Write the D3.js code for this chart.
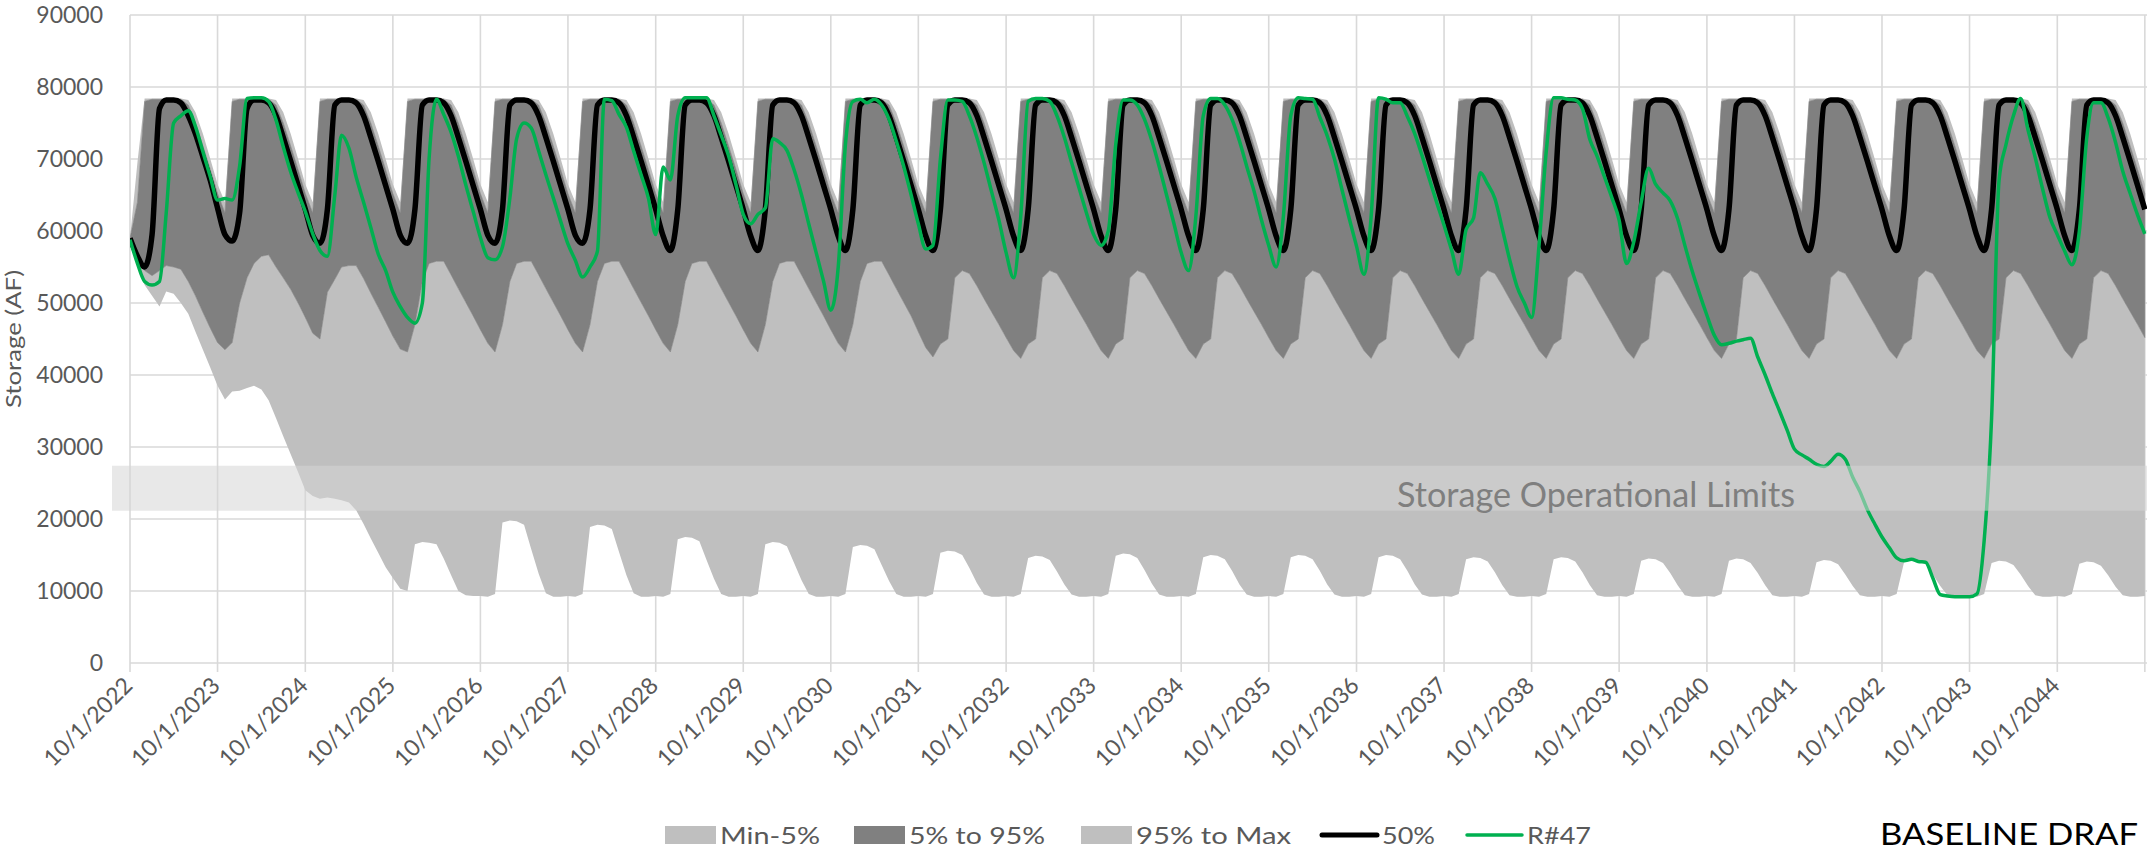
<!DOCTYPE html>
<html><head><meta charset="utf-8">
<script src="https://cdn.jsdelivr.net/npm/d3@7/dist/d3.min.js"></script>
<style>
html,body{margin:0;padding:0;background:#fff;}
svg{display:block;}
text{font-family:Lato,"Open Sans",sans-serif;}
</style></head>
<body>
<svg id="chart" width="2147" height="851"></svg>
<script>
// ---------------- DATA (monthly, first value = 10/1/2022) ----------------
const yTicks = [0,10000,20000,30000,40000,50000,60000,70000,80000,90000];
const yearTickLabels = ["10/1/2022","10/1/2023","10/1/2024","10/1/2025","10/1/2026","10/1/2027","10/1/2028","10/1/2029","10/1/2030","10/1/2031","10/1/2032","10/1/2033","10/1/2034","10/1/2035","10/1/2036","10/1/2037","10/1/2038","10/1/2039","10/1/2040","10/1/2041","10/1/2042","10/1/2043","10/1/2044"];
const legendNames = ["Min-5%","5% to 95%","95% to Max","50%","R#47"];
const opLimits = [21150, 27400];
const opLimitsLabel = "Storage Operational Limits";
const yAxisTitle = "Storage (AF)";
const stampText = "BASELINE DRAF";

const minSeries = [
59000,55500,52500,51000,49500,51600,51300,50000,48500,46000,43500,41000,
38500,36600,37700,37800,38200,38500,38000,36500,34000,31500,29000,26500,
24000,23200,22800,23000,22800,22600,22300,21200,19300,17300,15300,13300,
11800,10300,10000,16500,16800,16700,16500,14500,12200,10000,9400,9300,
9300,9200,9600,19500,19800,19700,19200,15800,12400,9700,9200,9200,
9300,9200,9600,18900,19200,19100,18600,15400,12200,9700,9200,9200,
9300,9200,9600,17200,17500,17400,16900,14300,11700,9600,9200,9200,
9300,9200,9600,16500,16800,16700,16200,13900,11500,9600,9200,9200,
9300,9200,9600,16100,16400,16300,15800,13600,11400,9600,9200,9200,
9300,9200,9600,15300,15600,15500,15000,13200,11100,9500,9200,9200,
9300,9200,9600,14600,14900,14800,14300,12700,10900,9500,9200,9200,
9300,9200,9600,14900,15200,15100,14600,12900,11000,9500,9200,9200,
9300,9200,9600,14700,15000,14900,14400,12800,10900,9500,9200,9200,
9300,9200,9600,14700,15000,14900,14400,12800,10900,9500,9200,9200,
9300,9200,9600,14700,15000,14900,14400,12800,10900,9500,9200,9200,
9300,9200,9600,14400,14700,14600,14100,12600,10800,9400,9200,9200,
9300,9200,9600,14400,14700,14600,14100,12600,10800,9400,9200,9200,
9300,9200,9600,14200,14500,14400,13900,12500,10800,9400,9200,9200,
9300,9200,9600,14200,14500,14400,13900,12500,10800,9400,9200,9200,
9300,9200,9600,14000,14300,14200,13700,12300,10700,9400,9200,9200,
9300,9200,9600,14000,14300,14200,13700,12300,10700,9400,9200,9200,
9300,9200,9600,13900,14200,14100,13600,12300,10700,9400,9200,9200,
9300,9200,9600,13800,14100,14000,13500,12200,10600,9400,9200,9200,
9300];

const p5Series = [
59000,56000,54500,53800,54500,55200,55000,54700,53000,51000,48700,46500,
44500,43500,44500,50000,53500,55500,56500,56700,55000,53500,51900,50000,
48000,45800,45000,51500,53300,55000,55200,55200,53400,51400,49400,47400,
45400,43600,43200,47000,53000,55500,55800,55800,53900,52000,50100,48200,
46300,44400,43200,47000,53000,55500,55800,55800,53900,52000,50100,48200,
46300,44400,43200,47000,53000,55500,55800,55800,53900,52000,50100,48200,
46300,44400,43200,47000,53000,55500,55800,55800,53900,52000,50100,48200,
46300,44400,43200,47000,53000,55500,55800,55800,53900,52000,50100,48200,
46300,44400,43200,47000,53000,55500,55800,55800,53900,52000,50100,48200,
46000,43800,42500,44300,45000,53500,54500,54100,52400,50600,48800,47000,
45200,43400,42300,44300,45000,53500,54500,54100,52400,50600,48800,47000,
45200,43400,42300,44300,45000,53500,54500,54100,52400,50600,48800,47000,
45200,43400,42300,44300,45000,53500,54500,54100,52400,50600,48800,47000,
45200,43400,42300,44300,45000,53500,54500,54100,52400,50600,48800,47000,
45200,43400,42300,44300,45000,53500,54500,54100,52400,50600,48800,47000,
45200,43400,42300,44300,45000,53500,54500,54100,52400,50600,48800,47000,
45200,43400,42300,44300,45000,53500,54500,54100,52400,50600,48800,47000,
45200,43400,42300,44300,45000,53500,54500,54100,52400,50600,48800,47000,
45200,43400,42300,44300,45000,53500,54500,54100,52400,50600,48800,47000,
45200,43400,42300,44300,45000,53500,54500,54100,52400,50600,48800,47000,
45200,43400,42300,44300,45000,53500,54500,54100,52400,50600,48800,47000,
45200,43400,42300,44300,45000,53500,54500,54100,52400,50600,48800,47000,
45200,43400,42300,44300,45000,53500,54500,54100,52400,50600,48800,47000,
45200];

const p95Series = [
59000,64000,78000,78300,78300,78300,78300,78300,77500,75000,71800,68500,
65200,62500,78000,78300,78300,78300,78300,78300,77500,75000,71800,68500,
65200,62500,78000,78300,78300,78300,78300,78300,77500,75000,71800,68500,
65200,62500,78000,78300,78300,78300,78300,78300,77500,75000,71800,68500,
65200,62500,78000,78300,78300,78300,78300,78300,77500,75000,71800,68500,
65200,62500,78000,78300,78300,78300,78300,78300,77500,75000,71800,68500,
65200,62500,78000,78300,78300,78300,78300,78300,77500,75000,71800,68500,
65200,62500,78000,78300,78300,78300,78300,78300,77500,75000,71800,68500,
65200,62500,78000,78300,78300,78300,78300,78300,77500,75000,71800,68500,
65200,62500,78000,78300,78300,78300,78300,78300,77500,75000,71800,68500,
65200,62500,78000,78300,78300,78300,78300,78300,77500,75000,71800,68500,
65200,62500,78000,78300,78300,78300,78300,78300,77500,75000,71800,68500,
65200,62500,78000,78300,78300,78300,78300,78300,77500,75000,71800,68500,
65200,62500,78000,78300,78300,78300,78300,78300,77500,75000,71800,68500,
65200,62500,78000,78300,78300,78300,78300,78300,77500,75000,71800,68500,
65200,62500,78000,78300,78300,78300,78300,78300,77500,75000,71800,68500,
65200,62500,78000,78300,78300,78300,78300,78300,77500,75000,71800,68500,
65200,62500,78000,78300,78300,78300,78300,78300,77500,75000,71800,68500,
65200,62500,78000,78300,78300,78300,78300,78300,77500,75000,71800,68500,
65200,62500,78000,78300,78300,78300,78300,78300,77500,75000,71800,68500,
65200,62500,78000,78300,78300,78300,78300,78300,77500,75000,71800,68500,
65200,62500,78000,78300,78300,78300,78300,78300,77500,75000,71800,68500,
65200,62500,78000,78300,78300,78300,78300,78300,77500,75000,71800,68500,
65200];

const maxSeries = [
59000,69500,78400,78400,78400,78400,78400,78400,78200,76500,73500,70000,
66500,64000,78400,78400,78400,78400,78400,78400,78200,76500,73500,70000,
66500,64000,78400,78400,78400,78400,78400,78400,78200,76500,73500,70000,
66500,64000,78400,78400,78400,78400,78400,78400,78200,76500,73500,70000,
66500,64000,78400,78400,78400,78400,78400,78400,78200,76500,73500,70000,
66500,64000,78400,78400,78400,78400,78400,78400,78200,76500,73500,70000,
66500,64000,78400,78400,78400,78400,78400,78400,78200,76500,73500,70000,
66500,64000,78400,78400,78400,78400,78400,78400,78200,76500,73500,70000,
66500,64000,78400,78400,78400,78400,78400,78400,78200,76500,73500,70000,
66500,64000,78400,78400,78400,78400,78400,78400,78200,76500,73500,70000,
66500,64000,78400,78400,78400,78400,78400,78400,78200,76500,73500,70000,
66500,64000,78400,78400,78400,78400,78400,78400,78200,76500,73500,70000,
66500,64000,78400,78400,78400,78400,78400,78400,78200,76500,73500,70000,
66500,64000,78400,78400,78400,78400,78400,78400,78200,76500,73500,70000,
66500,64000,78400,78400,78400,78400,78400,78400,78200,76500,73500,70000,
66500,64000,78400,78400,78400,78400,78400,78400,78200,76500,73500,70000,
66500,64000,78400,78400,78400,78400,78400,78400,78200,76500,73500,70000,
66500,64000,78400,78400,78400,78400,78400,78400,78200,76500,73500,70000,
66500,64000,78400,78400,78400,78400,78400,78400,78200,76500,73500,70000,
66500,64000,78400,78400,78400,78400,78400,78400,78200,76500,73500,70000,
66500,64000,78400,78400,78400,78400,78400,78400,78200,76500,73500,70000,
66500,64000,78400,78400,78400,78400,78400,78400,78200,76500,73500,70000,
66500,64000,78400,78400,78400,78400,78400,78400,78200,76500,73500,70000,
66500];

const p50Series = [
59000,56500,55000,59500,77000,78200,78200,77800,76000,73500,70300,67000,
63200,59500,58600,62500,77000,78200,78200,77800,76000,73000,69700,66300,
63000,59400,58300,63000,77500,78200,78200,77800,76000,73000,69700,66300,
63000,59400,58300,63000,77500,78200,78200,77800,76000,73000,69700,66300,
63000,59400,58300,63000,77500,78200,78200,77800,76000,73000,69700,66300,
63000,59400,58300,63000,77500,78200,78200,77800,76000,73000,69700,66300,
63000,59300,57300,63000,77500,78200,78200,77800,76000,73000,69700,66300,
63000,59300,57300,63000,77500,78200,78200,77800,76000,73000,69700,66300,
63000,59300,57300,63000,77500,78200,78200,77800,76000,73000,69700,66300,
63000,59300,57300,63000,77500,78200,78200,77800,76000,73000,69700,66300,
63000,59300,57300,63000,77500,78200,78200,77800,76000,73000,69700,66300,
63000,59300,57300,63000,77500,78200,78200,77800,76000,73000,69700,66300,
63000,59300,57300,63000,77500,78200,78200,77800,76000,73000,69700,66300,
63000,59300,57300,63000,77500,78200,78200,77800,76000,73000,69700,66300,
63000,59300,57300,63000,77500,78200,78200,77800,76000,73000,69700,66300,
63000,59300,57300,63000,77500,78200,78200,77800,76000,73000,69700,66300,
63000,59300,57300,63000,77500,78200,78200,77800,76000,73000,69700,66300,
63000,59300,57300,63000,77500,78200,78200,77800,76000,73000,69700,66300,
63000,59300,57300,63000,77500,78200,78200,77800,76000,73000,69700,66300,
63000,59300,57300,63000,77500,78200,78200,77800,76000,73000,69700,66300,
63000,59300,57300,63000,77500,78200,78200,77800,76000,73000,69700,66300,
63000,59300,57300,63000,77500,78200,78200,77800,76000,73000,69700,66300,
63000,59300,57300,63000,77500,78200,78200,77800,76000,73000,69700,66300,
63000];

const r47Series = [
58800,55500,53000,52500,53000,62500,75000,76000,76700,74500,71000,67500,
64300,64500,64300,69000,78400,78500,78500,78000,75400,71700,68200,65300,
62700,59600,57300,56500,65000,73300,71500,67500,64000,60500,56800,54500,
51500,49500,48000,47200,50000,70000,78300,76200,73700,70400,66400,62700,
59100,56300,56000,57800,64600,72800,75000,74300,71100,67800,64600,61300,
58200,55900,53600,55000,57200,78300,78100,76200,74400,71100,67800,64500,
59500,68900,67100,76000,78500,78500,78500,78500,76000,73300,70400,66400,
62300,61000,62300,63200,72800,72300,71200,68500,65000,61000,57000,53000,
49000,55000,72000,78000,78300,77800,78300,77500,75500,72500,69000,65000,
61000,57500,58000,70000,78200,78200,78000,76000,73000,69500,65500,61500,
57000,53500,62000,78000,78400,78400,78000,76000,73000,69500,66000,62500,
59500,58000,60000,72000,78200,78200,77500,75500,72500,69000,65000,61000,
57000,54500,62000,76000,78400,78400,77500,75500,72500,69000,65500,61500,
58000,55000,62000,76000,78500,78400,78300,75800,73200,70000,65800,61700,
57900,54000,62000,78500,78300,77800,77800,75900,73500,70500,67200,63900,
60800,57400,54000,60200,61800,68100,66500,64500,60300,56100,52300,50000,
48000,58000,71000,78500,78500,78300,78200,77000,72700,70400,67500,64600,
61500,55500,58500,64000,68700,66500,65300,64200,61700,58000,54400,51200,
48300,45500,44200,44400,44700,44900,45100,42500,40000,37400,34900,32300,
29700,28900,28300,27600,27300,28000,29000,28300,25800,23800,21300,19300,
17500,16000,14600,14200,14400,14100,14000,11800,9500,9300,9200,9200,
9200,9600,17000,34000,67000,72000,76000,78400,74000,70200,65800,61800,
59500,57200,55300,60000,73000,77800,77800,75700,72300,68300,65200,62200,
59600];

// ---------------- LAYOUT ----------------
const W = 2147, H = 851;
const plot = {left:130, right:2147, top:15, bottom:663};
const colLight = "#bfbfbf", colDark = "#808080", colGreen = "#00b050", colGrid = "#d9d9d9", colText = "#595959";

const svg = d3.select("#chart");
const dates = minSeries.map((_, i) => new Date(2022, 9 + i, 1));
const x = d3.scaleTime().domain([new Date(2022, 9, 1), new Date(2045, 9, 10)]).range([plot.left, plot.right]);
const y = d3.scaleLinear().domain([0, 90000]).range([plot.bottom, plot.top]);
const yearDates = d3.range(2022, 2046).map(yr => new Date(yr, 9, 1));

svg.append("rect").attr("width", W).attr("height", H).attr("fill", "#fff");

// grid
const grid = svg.append("g");
grid.selectAll("line.h").data(yTicks.filter(d => d > 0)).join("line")
  .attr("x1", plot.left).attr("x2", plot.right)
  .attr("y1", d => y(d)).attr("y2", d => y(d))
  .attr("stroke", colGrid).attr("stroke-width", 1.6);
grid.selectAll("line.v").data(yearDates).join("line")
  .attr("x1", d => x(d)).attr("x2", d => x(d))
  .attr("y1", plot.top).attr("y2", plot.bottom)
  .attr("stroke", colGrid).attr("stroke-width", 1.6);

// clip
svg.append("clipPath").attr("id", "clip").append("rect")
  .attr("x", plot.left).attr("y", 0).attr("width", plot.right - plot.left).attr("height", plot.bottom);
const g = svg.append("g").attr("clip-path", "url(#clip)");
const idx = d3.range(dates.length);

// bands
g.append("path").datum(idx)
  .attr("d", d3.area().x(i => x(dates[i])).y0(i => y(minSeries[i])).y1(i => y(p5Series[i])))
  .attr("fill", colLight);
g.append("path").datum(idx)
  .attr("d", d3.area().x(i => x(dates[i])).y0(i => y(p95Series[i])).y1(i => y(maxSeries[i])))
  .attr("fill", colLight);
g.append("path").datum(idx)
  .attr("d", d3.area().x(i => x(dates[i])).y0(i => y(p5Series[i])).y1(i => y(p95Series[i])))
  .attr("fill", colDark).attr("stroke", colDark).attr("stroke-width", 0.6);

// lines
g.append("path").datum(idx)
  .attr("d", d3.line().x(i => x(dates[i])).y(i => y(p50Series[i])).curve(d3.curveMonotoneX))
  .attr("fill", "none").attr("stroke", "#000").attr("stroke-width", 5.5).attr("stroke-linejoin", "round");
g.append("path").datum(idx)
  .attr("d", d3.line().x(i => x(dates[i])).y(i => y(r47Series[i])).curve(d3.curveMonotoneX))
  .attr("fill", "none").attr("stroke", colGreen).attr("stroke-width", 3.5).attr("stroke-linejoin", "round");

// axis line + ticks
svg.append("line").attr("x1", plot.left).attr("x2", plot.right).attr("y1", y(0)).attr("y2", y(0))
  .attr("stroke", colGrid).attr("stroke-width", 1.6);
svg.append("g").selectAll("line").data(yearDates).join("line")
  .attr("x1", d => x(d)).attr("x2", d => x(d)).attr("y1", y(0)).attr("y2", y(0) + 9)
  .attr("stroke", colGrid).attr("stroke-width", 1.6);

// operational limits band (drawn over the series)
svg.append("rect")
  .attr("x", plot.left - 18).attr("width", plot.right - plot.left + 18)
  .attr("y", y(opLimits[1])).attr("height", y(opLimits[0]) - y(opLimits[1]))
  .attr("fill", "rgb(213,213,213)").attr("fill-opacity", 0.55);
svg.append("text").text(opLimitsLabel)
  .attr("x", 1397).attr("y", 507)
  .attr("font-size", 34).attr("fill", "#7f7f7f")
  .attr("textLength", 398).attr("lengthAdjust", "spacingAndGlyphs");

// y labels
svg.append("g").selectAll("text").data(yTicks).join("text")
  .text(d => d)
  .attr("x", 103).attr("y", d => y(d) + 8)
  .attr("text-anchor", "end").attr("font-size", 23).attr("fill", colText);

// y title
svg.append("text").text(yAxisTitle)
  .attr("transform", `translate(21,${(plot.top + plot.bottom) / 2 + 69}) rotate(-90)`)
  .attr("font-size", 22).attr("fill", colText)
  .attr("textLength", 138).attr("lengthAdjust", "spacingAndGlyphs");

// x labels
svg.append("g").selectAll("text").data(yearTickLabels).join("text")
  .text(d => d)
  .attr("transform", (d, i) => `translate(${x(yearDates[i]) + 4},${y(0) + 24}) rotate(-45)`)
  .attr("text-anchor", "end").attr("font-size", 23).attr("fill", colText);

// legend
const legendX = [665, 854, 1081, 1322, 1467];
const legendTextW = [100, 136, 155, 53, 64];
const legendTypes = ["rect", "rect", "rect", "line", "line"];
const legendColors = [colLight, colDark, colLight, "#000", colGreen];
const legY = 835;
const leg = svg.append("g");
legendNames.forEach((name, i) => {
  let tx;
  if (legendTypes[i] === "rect") {
    leg.append("rect").attr("x", legendX[i]).attr("y", legY - 9).attr("width", 51).attr("height", 18).attr("fill", legendColors[i]);
    tx = legendX[i] + 55;
  } else {
    leg.append("line").attr("x1", legendX[i]).attr("x2", legendX[i] + 55).attr("y1", legY).attr("y2", legY)
      .attr("stroke", legendColors[i]).attr("stroke-width", i === 3 ? 5 : 3.5).attr("stroke-linecap", "round");
    tx = legendX[i] + 60;
  }
  leg.append("text").text(name).attr("x", tx).attr("y", legY + 9)
    .attr("font-size", 24).attr("fill", colText)
    .attr("textLength", legendTextW[i]).attr("lengthAdjust", "spacingAndGlyphs");
});

svg.append("text").text(stampText).attr("x", 1880).attr("y", 845)
  .attr("font-size", 30).attr("fill", "#000")
  .attr("textLength", 258).attr("lengthAdjust", "spacingAndGlyphs");
</script>
</body></html>
